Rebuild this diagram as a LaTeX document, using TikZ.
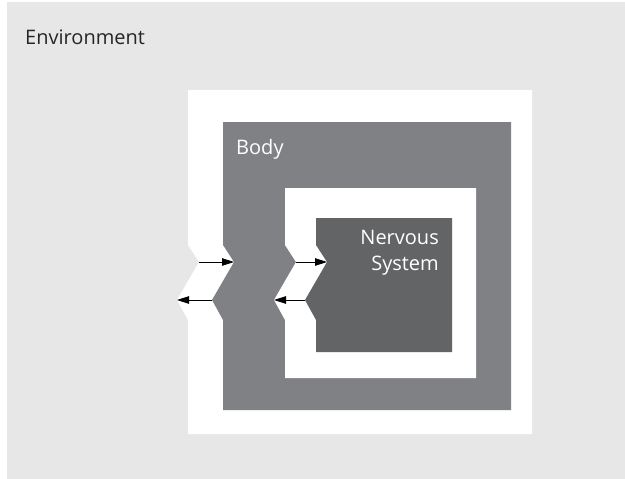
\documentclass[tikz,border=0pt]{standalone}
\usepackage{fontspec}
\setmainfont{Open Sans}
\usetikzlibrary{arrows.meta}
\definecolor{envgrey}{HTML}{E6E7E6}
\definecolor{bodygrey}{HTML}{808184}
\definecolor{nervgrey}{HTML}{636466}
% box whose left side carries a chevron notch: #1 colour, #2 left, #3 top, #4 right, #5 bottom
\newcommand{\notchbox}[5]{%
  \fill[#1] (#2,#3) -- (#4,#3) -- (#4,#5) -- (#2,#5) -- (#2,320)
    -- ++(-11,-20) -- ++(22,-38) -- ++(-11,-17) -- cycle;}
\begin{document}
\begin{tikzpicture}[x=1pt,y=-1pt,
  flow/.style={draw=black,line width=0.8pt,-{Triangle[length=12pt,width=7.5pt]}},
  label/.style={inner sep=0pt,font=\fontsize{20}{26}\selectfont}]
\useasboundingbox (0,0) rectangle (625,479);
% environment
\fill[envgrey] (7,2) rectangle (625,479);
% nested layers
\notchbox{white}{188}{90}{532}{434}
\notchbox{bodygrey}{223}{122}{511}{410}
\notchbox{white}{285}{188}{476}{378}
\notchbox{nervgrey}{316}{218}{452}{352}
% chevron tips of each layer boundary
\coordinate (outerIn)  at (199,262);
\coordinate (bodyIn)   at (234,262);
\coordinate (bodyOut)  at (212,300);
\coordinate (outerOut) at (177,300);
\coordinate (innerIn)  at (296,262);
\coordinate (nervIn)   at (327,262);
\coordinate (nervOut)  at (305,300);
\coordinate (innerOut) at (274,300);
% exchanges across the boundaries
\draw[flow] (outerIn) -- (bodyIn);
\draw[flow] (bodyOut) -- (outerOut);
\draw[flow] (innerIn) -- (nervIn);
\draw[flow] (nervOut) -- (innerOut);
% labels
\node[label,anchor=base west,text=black!85] (env) at (25,45) {Environment};
\node[label,anchor=base west,text=white] (body) at (236,154) {Body};
\node[label,anchor=north east,align=right,text=white] (nerv) at (439,230.5) {Nervous\\System};
\end{tikzpicture}
\end{document}
